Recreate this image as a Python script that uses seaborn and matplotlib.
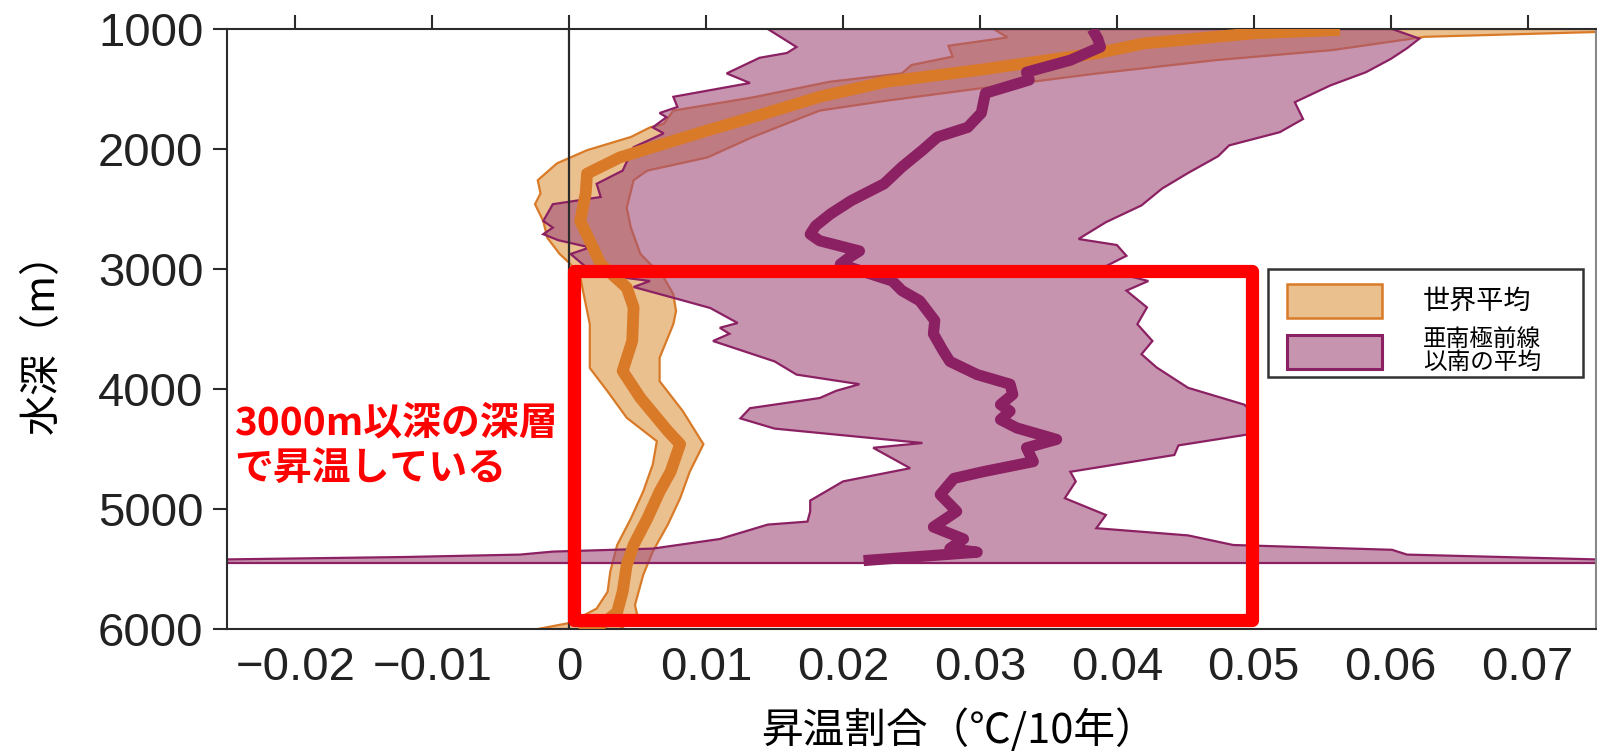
import numpy as np
import pandas as pd
import seaborn as sns
import matplotlib
matplotlib.use("Agg")
import matplotlib.pyplot as plt
from matplotlib.patches import Rectangle, Patch

# ---------------- data ----------------
# Global mean warming rate profile (°C / decade) vs depth (m)
global_mean_depth = [1008, 1035, 1120, 1200, 1340, 1440, 1565, 1735, 1845, 1985, 2070, 2205,
                     2370, 2600, 2765, 2960, 3155, 3320, 3600, 3850, 4075, 4350, 4460, 4690,
                     4855, 5080, 5300, 5465, 5690, 5860, 5950, 6000]
global_mean = [0.0563, 0.0501, 0.0420, 0.0386, 0.0300, 0.0231, 0.0183, 0.0134, 0.0101, 0.0061,
               0.0037, 0.0013, 0.0012, 0.0008, 0.0015, 0.0023, 0.0042, 0.0047, 0.0046, 0.0039,
               0.0052, 0.0072, 0.0081, 0.0074, 0.0066, 0.0057, 0.0047, 0.0042, 0.0039, 0.0035,
               0.0025, 0.0007]

global_low_depth = [1000, 1070, 1140, 1230, 1300, 1370, 1440, 1570, 1680, 1790, 1820, 1900,
                    2010, 2120, 2260, 2370, 2460, 2600, 2740, 2875, 2960, 3060, 3180, 3460,
                    3825, 4020, 4240, 4435, 4630, 4855, 5080, 5300, 5520, 5690, 5830, 5950, 6000]
global_low = [0.0310, 0.0320, 0.0277, 0.0280, 0.0250, 0.0243, 0.0190, 0.0134, 0.0076, 0.0069,
              0.0059, 0.0045, 0.0013, -0.0009, -0.0023, -0.0021, -0.0025, -0.0019, -0.0016,
              -0.0007, 0.0001, 0.0008, 0.0010, 0.0015, 0.0015, 0.0028, 0.0042, 0.0064, 0.0061,
              0.0054, 0.0045, 0.0035, 0.0030, 0.0028, 0.0020, 0.0000, -0.0023]

global_high_depth = [1000, 1025, 1065, 1175, 1260, 1370, 1495, 1600, 1680, 1760, 1900, 2070,
                     2180, 2260, 2490, 2655, 2875, 3070, 3210, 3350, 3460, 3740, 3935, 4185,
                     4460, 4690, 4910, 5130, 5355, 5550, 5800, 5900, 6000]
global_high = [0.1100, 0.0750, 0.0625, 0.0558, 0.0472, 0.0386, 0.0300, 0.0230, 0.0183, 0.0165,
               0.0134, 0.0101, 0.0057, 0.0047, 0.0042, 0.0045, 0.0052, 0.0069, 0.0076, 0.0078,
               0.0076, 0.0066, 0.0066, 0.0083, 0.0098, 0.0088, 0.0081, 0.0072, 0.0061, 0.0054,
               0.0048, 0.0050, 0.0037]

# South of the Subantarctic Front
saf_mean_depth = [1000, 1080, 1150, 1260, 1360, 1425, 1535, 1700, 1820, 1900, 2010, 2150, 2290,
                  2430, 2540, 2640, 2710, 2765, 2850, 2900, 2960, 3100, 3180, 3265, 3430, 3540,
                  3680, 3770, 3880, 3960, 4045, 4130, 4185, 4255, 4325, 4420, 4490, 4605, 4690,
                  4745, 4880, 5020, 5150, 5250, 5330, 5360, 5430]
saf_mean = [0.0382, 0.0386, 0.0388, 0.0366, 0.0334, 0.0336, 0.0304, 0.0301, 0.0291, 0.0269,
            0.0258, 0.0243, 0.0230, 0.0206, 0.0191, 0.0180, 0.0176, 0.0183, 0.0212, 0.0205,
            0.0198, 0.0236, 0.0243, 0.0256, 0.0267, 0.0266, 0.0273, 0.0278, 0.0298, 0.0322,
            0.0324, 0.0315, 0.0322, 0.0315, 0.0327, 0.0356, 0.0334, 0.0339, 0.0302, 0.0281,
            0.0271, 0.0283, 0.0266, 0.0288, 0.0278, 0.0298, 0.0215]

saf_low_depth = [1000, 1150, 1200, 1240, 1370, 1450, 1565, 1650, 1700, 1735, 1820, 1870, 1985,
                 2180, 2290, 2400, 2460, 2600, 2655, 2710, 2760, 2820, 2875, 3040, 3100, 3150,
                 3240, 3325, 3450, 3490, 3540, 3600, 3770, 3880, 3960, 4015, 4075, 4160, 4245,
                 4330, 4450, 4490, 4660, 4770, 4930, 5020, 5105, 5130, 5250, 5330, 5355, 5380,
                 5400, 5420, 5450]
saf_low = [0.0145, 0.0166, 0.0159, 0.0139, 0.0115, 0.0132, 0.0076, 0.0079, 0.0066, 0.0071,
           0.0061, 0.0069, 0.0047, 0.0039, 0.0020, 0.0023, -0.0012, -0.0019, -0.0012, -0.0019,
           -0.0008, 0.0015, 0.0001, 0.0018, 0.0059, 0.0047, 0.0076, 0.0103, 0.0123, 0.0110,
           0.0117, 0.0105, 0.0150, 0.0166, 0.0212, 0.0195, 0.0183, 0.0132, 0.0125, 0.0150,
           0.0258, 0.0222, 0.0249, 0.0200, 0.0176, 0.0176, 0.0174, 0.0145, 0.0110, 0.0061,
           -0.0012, -0.0036, -0.0120, -0.0250, -0.1000]

saf_high_depth = [1000, 1080, 1160, 1250, 1360, 1470, 1610, 1750, 1860, 1970, 2060, 2200, 2330,
                  2470, 2610, 2750, 2800, 2890, 3000, 3100, 3180, 3320, 3460, 3600, 3710, 3820,
                  3990, 4130, 4200, 4380, 4470, 4550, 4690, 4770, 4910, 5050, 5160, 5220, 5300,
                  5340, 5380, 5420, 5450]
saf_high = [0.0601, 0.0621, 0.0612, 0.0600, 0.0582, 0.0556, 0.0530, 0.0536, 0.0519, 0.0482,
            0.0474, 0.0452, 0.0433, 0.0418, 0.0392, 0.0372, 0.0400, 0.0407, 0.0388, 0.0423,
            0.0407, 0.0422, 0.0415, 0.0426, 0.0418, 0.0429, 0.0452, 0.0493, 0.0500, 0.0495,
            0.0445, 0.0442, 0.0366, 0.0370, 0.0362, 0.0392, 0.0385, 0.0452, 0.0485, 0.0601,
            0.0612, 0.0750, 0.1000]

# highlighted region (warming below 3000 m)
box_x = [0.00036, 0.0499]
box_depth = [3015, 5925]

x_ticks = [-0.02, -0.01, 0, 0.01, 0.02, 0.03, 0.04, 0.05, 0.06, 0.07]
x_tick_labels = ["\u22120.02", "\u22120.01", "0", "0.01", "0.02", "0.03", "0.04", "0.05", "0.06", "0.07"]
y_ticks = [1000, 2000, 3000, 4000, 5000, 6000]
y_tick_labels = ["1000", "2000", "3000", "4000", "5000", "6000"]

legend_labels = ["世界平均", "亜南極前線\n以南の平均"]
x_label = "昇温割合（℃/10年）"
y_label = "水深（m）"
note_text = "3000m以深の深層\nで昇温している"

# ---------------- styling ----------------
ORANGE_FILL = "#EBC08F"
ORANGE_LINE = "#D97A28"
PURPLE_FILL = (162/255, 77/255, 122/255, 0.6)
PURPLE_FILL_SOLID = "#C794AF"
PURPLE_LINE = "#8B2163"
AX_COL = "#2b2b2b"
CJK = ["Noto Sans CJK JP", "DejaVu Sans"]

sns.set_theme(style="white")
plt.rcParams['font.family'] = ["Liberation Sans", "Noto Sans CJK JP", "DejaVu Sans"]

fig = plt.figure(figsize=(15.97, 7.51), dpi=100)
ax = fig.add_axes([227/1597, 1 - 629/751, 1369/1597, 600/751])

# orange band (global)
gx = np.concatenate([global_low, global_high[::-1]])
gy = np.concatenate([global_low_depth, global_high_depth[::-1]])
ax.fill(gx, gy, facecolor=ORANGE_FILL, edgecolor=ORANGE_LINE, linewidth=1.6, zorder=1)

# purple band (south of SAF)
px = np.concatenate([saf_low, saf_high[::-1]])
py = np.concatenate([saf_low_depth, saf_high_depth[::-1]])
ax.fill(px, py, facecolor=PURPLE_FILL, edgecolor=PURPLE_LINE, linewidth=1.6, zorder=2)

ax.axvline(0, color=AX_COL, lw=1.6, zorder=2.5)

gdf = pd.DataFrame({"rate": global_mean, "depth": global_mean_depth})
sdf = pd.DataFrame({"rate": saf_mean, "depth": saf_mean_depth})
sns.lineplot(data=gdf, x="rate", y="depth", sort=False, estimator=None, orient="y",
             color=ORANGE_LINE, lw=8.5, solid_joinstyle="round", solid_capstyle="butt",
             ax=ax, zorder=3)
sns.lineplot(data=sdf, x="rate", y="depth", sort=False, estimator=None, orient="y",
             color=PURPLE_LINE, lw=8, solid_joinstyle="round", solid_capstyle="butt",
             ax=ax, zorder=4)

# red highlight rectangle
ax.add_patch(Rectangle((box_x[0], box_depth[0]), box_x[1] - box_x[0], box_depth[1] - box_depth[0],
                       fill=False, edgecolor="#FF0000", lw=9.5, joinstyle="round",
                       zorder=6, clip_on=False))

ax.text(-0.0245, 4120, note_text, color="#FF0000", fontsize=28, fontweight="bold",
        family=CJK, ha="left", va="top", linespacing=1.2, zorder=6)

# axes
ax.set_xlim(-0.025, 0.075)
ax.set_ylim(6000, 1000)
ax.set_xticks(x_ticks)
ax.set_xticklabels(x_tick_labels)
ax.set_yticks(y_ticks)
ax.set_yticklabels(y_tick_labels)
ax.tick_params(axis="both", which="both", direction="out", length=10, width=1.5,
               color=AX_COL, labelsize=34, labelcolor="#222222")
ax.tick_params(axis="x", top=True, labeltop=False, pad=2)
ax.tick_params(axis="y", left=True, right=False, pad=7)
for s in ax.spines.values():
    s.set_color(AX_COL)
    s.set_linewidth(1.5)
ax.spines["right"].set_color("#888888")
ax.grid(False)

ax.set_xlabel(x_label, fontsize=30, family=CJK, color="black")
ax.xaxis.set_label_coords(0.535, -0.133)
ax.xaxis.label.set_va("top")
ax.set_ylabel(y_label, fontsize=29.5, family=CJK, color="black")
ax.yaxis.set_label_coords(-0.120, 0.493)

# legend (frame drawn separately so its width matches the reference)
ax.add_patch(Rectangle((0.7604, 0.420), 0.2301, 0.180, transform=ax.transAxes,
                       facecolor="white", edgecolor="#333333", lw=1.8, zorder=6.9))
handles = [Patch(facecolor=ORANGE_FILL, edgecolor=ORANGE_LINE, lw=1.8),
           Patch(facecolor=PURPLE_FILL_SOLID, edgecolor=PURPLE_LINE, lw=2.2)]
leg = ax.legend(handles, legend_labels, loc="upper left",
                bbox_to_anchor=(0.764, 0.598),
                borderaxespad=0, prop={"family": CJK, "size": 17},
                handlelength=4.0, handleheight=1.84, handletextpad=1.75,
                labelspacing=0.40, borderpad=0.6, frameon=False)
leg.set_zorder(7)
leg.get_texts()[0].set_fontsize(19.5)
for t in leg.get_texts():
    t.set_color("black")
    t.set_linespacing(1.0)

fig.savefig("out.png", dpi=100)
